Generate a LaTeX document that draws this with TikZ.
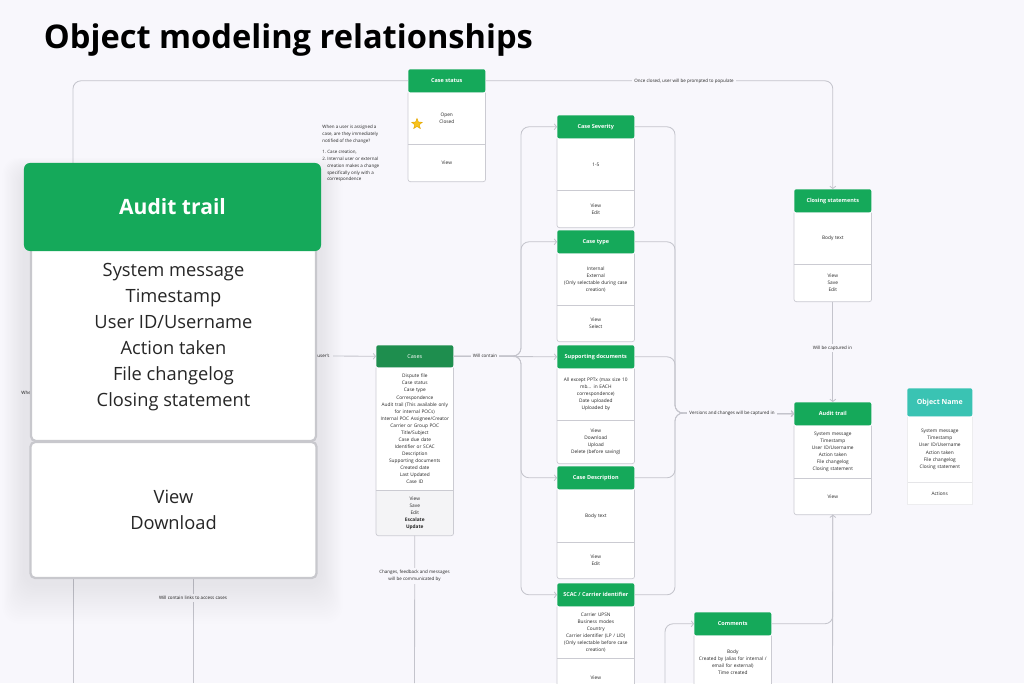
\documentclass[tikz,border=0pt]{standalone}
\usepackage{fontspec}
\setmainfont{Open Sans}
\usetikzlibrary{positioning,arrows.meta,shapes.geometric}

\definecolor{canvas}{HTML}{F8F7FC}
\definecolor{cardgreen}{HTML}{15A95A}
\definecolor{casegreen}{HTML}{1E8E4E}
\definecolor{legendteal}{HTML}{3AC3B3}
\definecolor{edgegray}{HTML}{CBCBD2}
\definecolor{linegray}{HTML}{C4C4CC}
\definecolor{bigedge}{HTML}{C8C8CD}
\definecolor{footgray}{HTML}{F4F4F6}
\definecolor{ink}{HTML}{262626}
\definecolor{starfill}{HTML}{F8C21C}
\definecolor{staredge}{HTML}{E3A600}

\newcommand{\pxl}{0.025cm}
\newcommand{\objcard}[7]{%
  \node[cardhead, anchor=north west] (#1) at (#2) {#3};
  \node[cardbody, minimum height=#4*\pxl, below=0pt of #1] (#1b) {#5};
  \node[cardbody, minimum height=#6*\pxl, below=0pt of #1b] (#1f) {#7};
  \draw[cardline] (#1b.south west) -- (#1b.south east);
  \draw[cardline, rounded corners=0.06cm] (#1.south west) |- (#1f.south east) -- (#1.south east);
}

\tikzset{
  cardhead/.style={fill=cardgreen, text=white, font=\fontsize{3.9}{5}\selectfont\bfseries, minimum width=1.925cm, minimum height=0.575cm, inner sep=0pt, rounded corners=0.05cm},
  cardbody/.style={fill=white, text=ink, font=\fontsize{3.4}{5}\selectfont, minimum width=1.925cm, text width=1.85cm, align=center, inner sep=0pt},
  cardline/.style={draw=edgegray, line width=0.5pt},
  conn/.style={draw=linegray, line width=0.6pt, rounded corners=0.2cm},
  arr/.style={-{Straight Barb[length=1.6pt, width=4.2pt]}},
  note/.style={fill=canvas, text=ink, font=\fontsize{3.2}{4.8}\selectfont, inner sep=1.5pt, align=center},
  bighead/.style={fill=cardgreen, text=white, font=\fontsize{15}{18}\selectfont\bfseries, minimum width=7.425cm, minimum height=2.2cm, rounded corners=0.15cm},
  bigframe/.style={draw=bigedge, line width=1.6pt, rounded corners=0.12cm},
  bigtext/.style={text=ink, font=\fontsize{13}{18.5}\selectfont, align=center}
}

\begin{document}
\begin{tikzpicture}[x=0.025cm, y=-0.025cm]
  \fill[canvas] (0,0) rectangle (1024,683);
  \useasboundingbox (0,0) rectangle (1024,683);
  \clip (0,0) rectangle (1024,683);

  \node[anchor=base west, font=\fontsize{23.2}{28}\selectfont\bfseries, text=black] (title) at (39,49) {Object modeling relationships};

  \objcard{status}{408,69}{Case status}{51}{Open\\Closed}{37}{View}
  \node[star, star points=5, star point ratio=2.3, fill=starfill, draw=staredge, line width=0.3pt, minimum size=0.28cm, inner sep=0pt] (star) at (417,124) {};
  \node[note, fill=none, anchor=north west, align=left] (question) at (320,123) {When a user is assigned a\\case, are they immediately\\notified of the change?\\[3.5pt]1.~Case creation,\\2.~Internal user or external\\\phantom{2.~}creation makes a change\\\phantom{2.~}specifically only with a\\\phantom{2.~}correspondence};

  \objcard{severity}{557,115}{Case Severity}{51}{1-5}{37}{View\\Edit}
  \objcard{casetype}{557,230}{Case type}{51}{Internal\\External\\(Only selectable during case\\creation)}{36}{View\\Select}
  \objcard{supdocs}{557,345}{Supporting documents}{51}{All except PPTx (max size 10\\mb... in EACH\\correspondence)\\Date uploaded\\Uploaded by}{43}{View\\Download\\Upload\\Delete (before saving)}
  \objcard{casedesc}{557,466}{Case Description}{52}{Body text}{36}{View\\Edit}
  \objcard{scac}{557,583}{SCAC / Carrier identifier}{51}{Carrier UPSN\\Business modes\\Country\\Carrier identifier (LP / LID)\\(Only selectable before case\\creation)}{38}{View}
  \objcard{comments}{694,612}{Comments}{52}{Body\\Created by (alias for internal /\\email for external)\\Time created}{30}{}
  \objcard{closing}{794,189}{Closing statements}{51}{Body text}{37}{View\\Save\\Edit}
  \objcard{audit}{794,402}{Audit trail}{52}{System message\\Timestamp\\User ID/Username\\Action taken\\File changelog\\Closing statement}{36}{View}

  \node[cardhead, fill=casegreen, font=\fontsize{3.9}{5}\selectfont, minimum height=0.55cm, anchor=north west] (cases) at (376,345) {Cases};
  \node[cardbody, minimum height=122*\pxl, below=0pt of cases] (casesb) {Dispute file\\Case status\\Case type\\Correspondence\\Audit trail (This available only\\for internal POCs)\\Internal POC Assignee/Creator\\Carrier or Group POC\\Title/Subject\\Case due date\\Identifier or SCAC\\Description\\Supporting documents\\Created date\\Last Updated\\Case ID};
  \node[cardbody, fill=footgray, minimum height=45*\pxl, below=0pt of casesb] (casesf) {View\\Save\\Edit\\\textbf{Escalate}\\\textbf{Update}};
  \draw[cardline] (casesb.south west) -- (casesb.south east);
  \draw[cardline, rounded corners=0.06cm] (cases.south west) |- (casesf.south east) -- (cases.south east);

  \node[cardhead, fill=legendteal, font=\fontsize{5}{6}\selectfont\bfseries, minimum width=1.625cm, minimum height=0.7cm, anchor=north west] (legend) at (907,388) {Object Name};
  \node[cardbody, minimum width=1.625cm, text width=1.6cm, minimum height=65*\pxl, below=0pt of legend] (legendb) {System message\\Timestamp\\User ID/Username\\Action taken\\File changelog\\Closing statement};
  \node[cardbody, minimum width=1.625cm, text width=1.6cm, minimum height=22*\pxl, below=0pt of legendb] (legendf) {Actions};
  \draw[cardline, draw=edgegray!50] (legendb.south west) -- (legendb.south east);
  \draw[cardline, draw=edgegray!35] (legend.south west) |- (legendf.south east) -- (legend.south east);

  \coordinate (busin) at (521,356);
  \coordinate (busout) at (675,413);
  \draw[conn, arr] (cases.east) -- (supdocs.west);
  \foreach \dest in {severity, casetype, casedesc, scac}
    \draw[conn, arr] (cases.east) -- (busin) |- (\dest.west);
  \node[note] (containlabel) at (485,356) {Will contain};

  \foreach \src in {severity, casetype, supdocs, casedesc, scac}
    \draw[conn, arr] (\src.east) -| (busout) -- (audit.west);
  \node[note] (versionlabel) at (732,413) {Versions and changes will be captured in};

  \draw[conn, arr] (status.east) -| (closing.north);
  \node[note] (closelabel) at (684,81) {Once closed, user will be prompted to populate};

  \draw[conn, arr] (closingf.south) -- (audit.north);
  \node[note] (capturelabel) at (832.5,348) {Will be captured in};

  \coordinate (auditsrc) at (832.5,683);
  \draw[conn, arr] (auditsrc) -- (auditf.south);
  \draw[conn] (comments.east) -| (auditf.south);

  \coordinate (commentsrc) at (665,683);
  \draw[conn, arr] (commentsrc) |- (comments.west);

  \coordinate (casessink) at (414.5,683);
  \draw[conn] (casesf.south) -- (casessink);
  \node[note] (commlabel) at (414.5,576) {Changes, feedback and messages\\will be communicated by};

  \coordinate (usersrc) at (333,356);
  \draw[conn, arr] (usersrc) -- (cases.west);
  \node[note, fill=none, anchor=east] (userlabel) at (332,356) {user's};

  \coordinate (leftrail) at (73,683);
  \coordinate (linkrail) at (193,683);
  \draw[conn] (status.west) -| (73,175);
  \draw[conn] (73,570) -- (leftrail);
  \draw[conn] (193,570) -- (linkrail);
  \node[note] (linklabel) at (193,598) {Will contain links to access cases};
  \node[note, fill=none, anchor=west] (whenlabel) at (19,393) {When};

  \foreach \s in {1,...,18}
    \fill[black, opacity=0.005, rounded corners=0.4cm] (24-1.2*\s,172-0.8*\s) rectangle (321+1.2*\s,584+2.2*\s);
  \draw[bigframe, fill=white] (31,240) rectangle (316,441);
  \node[bighead] (zoomhead) at (172.5,207) {Audit trail};
  \node[bigtext] (zoomfields) at (173.5,337) {System message\\Timestamp\\User ID/Username\\Action taken\\File changelog\\Closing statement};
  \node[bigframe, bigtext, fill=white, inner sep=0pt, minimum width=7.15cm, minimum height=3.4cm] (zoomfoot) at (173.5,510) {View\\Download};
\end{tikzpicture}
\end{document}
